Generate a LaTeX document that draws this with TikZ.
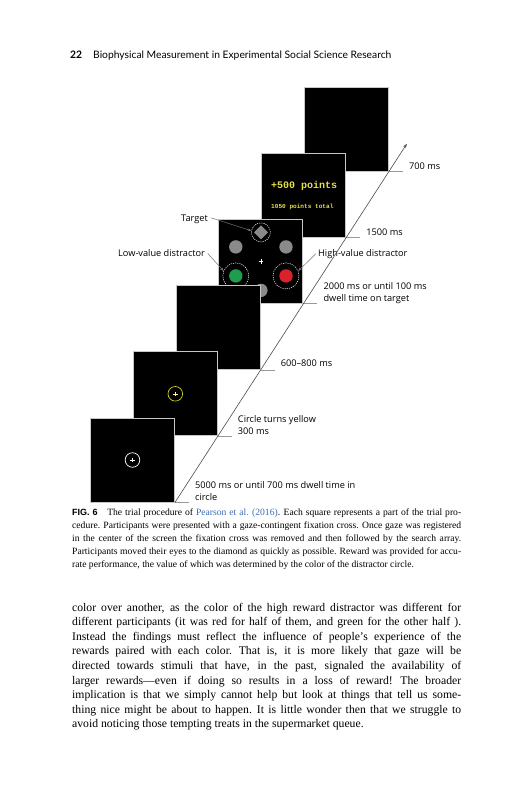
\documentclass[tikz,border=0pt]{standalone}
\usepackage{fontspec}
\setmainfont{Liberation Serif}
\setsansfont{Liberation Sans}
\newfontfamily\labelfont{Open Sans}
\newfontfamily\headfont{Lato}
\newfontfamily\codefont{Liberation Mono}
\usetikzlibrary{arrows.meta,calc}
\definecolor{ptsyellow}{HTML}{E4E04A}
\definecolor{fixyellow}{HTML}{D6CF2A}
\definecolor{dgreen}{HTML}{1E9E4C}
\definecolor{dred}{HTML}{D8232A}
\definecolor{stimgray}{HTML}{8A8A8A}
\definecolor{linkblue}{HTML}{3A6DB5}
\newcommand{\capline}[1]{\makebox[389pt][s]{\spaceskip=0.25em plus 1fil minus 0.1em\xspaceskip=0.3em plus 1fil minus 0.1em\relax #1}}
\begin{document}
\begin{tikzpicture}[x=1pt,y=-1pt,
  natsp/.style={execute at begin node={\spaceskip=0pt\xspaceskip=0pt\relax}},
  screen/.style={rectangle, fill=black, draw=black!22, line width=0.9pt, minimum size=84pt, inner sep=0pt},
  diag/.style={draw=black!70, line width=0.6pt},
  tickline/.style={draw=black!40, line width=0.8pt},
  lab/.style={natsp, font=\labelfont\fontsize{9.2}{12}\selectfont, inner sep=0pt, anchor=base west, align=left},
  ptr/.style={draw=black!55, line width=0.5pt, -{Stealth[length=3.5pt,width=2.8pt]}},
  ring/.style={circle, draw=white, line width=0.5pt, dash pattern=on 1.2pt off 1pt, inner sep=0pt},
  dot/.style={circle, inner sep=0pt, minimum size=13.4pt},
  fix/.style={circle, line width=0.7pt, minimum size=14.6pt, inner sep=0pt},
  crossline/.style={line width=0.6pt}
]
\useasboundingbox[fill=white] (0,0) rectangle (531,800);

% running head
\node[anchor=base west, inner sep=0pt, font=\headfont\bfseries\fontsize{10.3}{12}\selectfont] (pg) at (70,58.5) {22};
\node[anchor=base west, inner sep=0pt, font=\headfont\fontsize{10.3}{12}\selectfont] (run) at (93,58.5) {Biophysical Measurement in Experimental Social Science Research};

% screens, back to front
\node[screen] (sq6) at (346.5,129) {};

\node[screen] (sq5) at (303.7,195.2) {};
\node[anchor=base west, inner sep=0pt, text=ptsyellow, font=\codefont\bfseries\fontsize{10}{12}\selectfont] (pts) at (271,188.5) {+500 points};
\node[anchor=base west, inner sep=0pt, text=ptsyellow, font=\codefont\bfseries\fontsize{6.1}{8}\selectfont] (tot) at (271,208) {1050 points total};

\node[screen] (sq4) at (260.9,261.4) {};
\node[ring, minimum size=19pt] (tring) at (260.9,232.4) {};
\fill[stimgray] (260.9,225.4) -- (267.9,232.4) -- (260.9,239.4) -- (253.9,232.4) -- cycle;
\node[dot, fill=stimgray] (g1) at (235.8,246.9) {};
\node[dot, fill=stimgray] (g2) at (286.0,246.9) {};
\node[dot, fill=stimgray] (g3) at (260.9,290.4) {};
\node[ring, minimum size=26pt] (gring) at (235.8,275.9) {};
\node[dot, fill=dgreen] (gd) at (235.8,275.9) {};
\node[ring, minimum size=26pt] (rring) at (286.0,275.9) {};
\node[dot, fill=dred] (rd) at (286.0,275.9) {};
\draw[white, crossline] ($(sq4.center)+(-2.2,0)$) -- ($(sq4.center)+(2.2,0)$);
\draw[white, crossline] ($(sq4.center)+(0,-2.2)$) -- ($(sq4.center)+(0,2.2)$);

\node[screen] (sq3) at (218.1,327.6) {};

\node[screen] (sq2) at (175.3,393.8) {};
\node[fix, draw=fixyellow] (yc) at (sq2.center) {};
\draw[yellow!45!white, crossline] ($(yc.center)+(-2.3,0)$) -- ($(yc.center)+(2.3,0)$);
\draw[yellow!45!white, crossline] ($(yc.center)+(0,-2.3)$) -- ($(yc.center)+(0,2.3)$);

\node[screen] (sq1) at (132.5,460) {};
\node[fix, draw=white] (wc) at (sq1.center) {};
\draw[white, crossline] ($(wc.center)+(-2.3,0)$) -- ($(wc.center)+(2.3,0)$);
\draw[white, crossline] ($(wc.center)+(0,-2.3)$) -- ($(wc.center)+(0,2.3)$);

% stimulus labels
\node[lab] (tlab) at (181,221) {Target};
\node[lab] (llab) at (118,256) {Low-value distractor};
\node[lab] (hlab) at (318,256) {High-value distractor};
\draw[ptr, shorten <=3pt] ($(tlab.east)+(0,-2)$) -- (tring.170);
\draw[ptr, shorten <=4pt] ($(llab.east)+(0,-2)$) -- (gring.158);
\draw[ptr, shorten <=3pt] ($(hlab.west)+(0,-2)$) -- (rring.22);

% time axis
\coordinate (tip) at ($(sq6.south east)+(17.9,-27.7)$);
\foreach \s in {sq1,sq2,sq3,sq4,sq5,sq6}{
  \draw[tickline] (\s.south east) -- ++(14,0);
}
\draw[diag, -{Stealth[length=4.5pt,width=3.2pt]}] (sq1.south east) -- (tip);

% time labels (base = last line)
\node[lab] (t6) at ($(sq6.south east)+(20,-2)$) {700 ms};
\node[lab] (t5) at ($(sq5.south east)+(20,-2)$) {1500 ms};
\node[lab] (t4) at ($(sq4.south east)+(20,-2)$) {2000 ms or until 100 ms\\dwell time on target};
\node[lab] (t3) at ($(sq3.south east)+(20,-3.5)$) {600–800 ms};
\node[lab] (t2) at ($(sq2.south east)+(20,-2)$) {Circle turns yellow\\300 ms};
\node[lab] (t1) at ($(sq1.south east)+(20,-2)$) {5000 ms or until 700 ms dwell time in\\circle};

% caption
\node[natsp, anchor=base west, inner sep=0pt, text width=389pt, align=left, font=\fontsize{9.6}{13}\selectfont] (cap) at (72,515.5) {%
\capline{{\sffamily\bfseries\fontsize{9}{13}\selectfont FIG. 6}\quad The trial procedure of \textcolor{linkblue}{Pearson et al. (2016)}. Each square represents a part of the trial pro-}\\
\capline{cedure. Participants were presented with a gaze-contingent fixation cross. Once gaze was registered}\\
\capline{in the center of the screen the fixation cross was removed and then followed by the search array.}\\
\capline{Participants moved their eyes to the diamond as quickly as possible. Reward was provided for accu-}\\
rate performance, the value of which was determined by the color of the distractor circle.};

% body text
\node[natsp, anchor=base west, inner sep=0pt, text width=389pt, align=left, font=\fontsize{11.7}{14.6}\selectfont] (body) at (72,611) {%
\capline{color over another, as the color of the high reward distractor was different for}\\
\capline{different participants (it was red for half of them, and green for the other half ).}\\
\capline{Instead the findings must reflect the influence of people’s experience of the}\\
\capline{rewards paired with each color. That is, it is more likely that gaze will be}\\
\capline{directed towards stimuli that have, in the past, signaled the availability of}\\
\capline{larger rewards—even if doing so results in a loss of reward! The broader}\\
\capline{implication is that we simply cannot help but look at things that tell us some-}\\
\capline{thing nice might be about to happen. It is little wonder then that we struggle to}\\
avoid noticing those tempting treats in the supermarket queue.};
\end{tikzpicture}
\end{document}
